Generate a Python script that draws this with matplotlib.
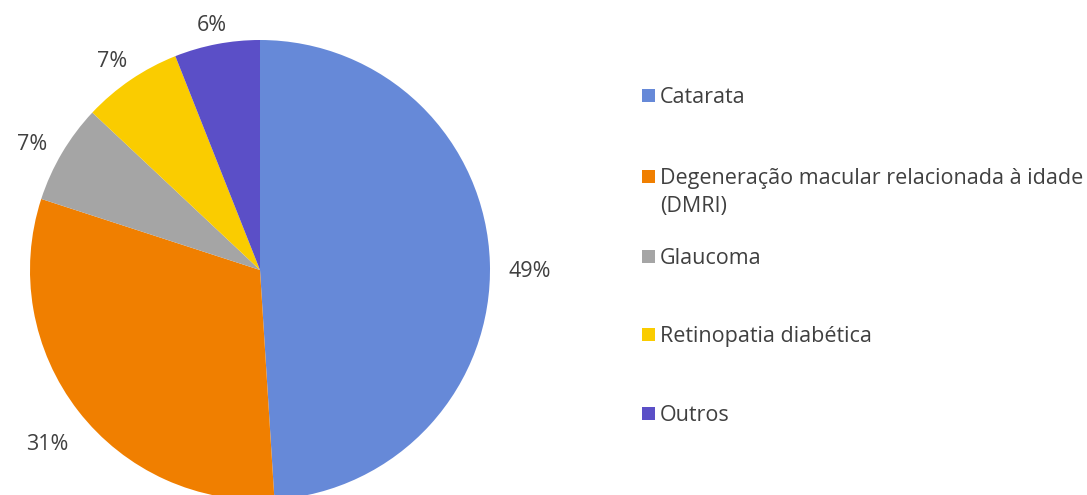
import matplotlib
matplotlib.use('Agg')
import matplotlib.pyplot as plt
import numpy as np
from matplotlib.patches import Rectangle

# chart data
categories = ['Catarata', 'Degeneração macular relacionada à idade\n(DMRI)', 'Glaucoma',
              'Retinopatia diabética', 'Outros']
shares = [49, 31, 7, 7, 6]
colors = ['#6689D8', '#F07F00', '#A5A5A5', '#FACC00', '#5B4FC7']

plt.rcParams['font.family'] = ['Open Sans', 'DejaVu Sans']
text_color = '#404040'

W, H = 1087, 495
cx, cy, R = 260, H - 270, 230
fig = plt.figure(figsize=(W / 100, H / 100), dpi=100)
ax = fig.add_axes([0, 0, 1, 1])

wedges, _, pcts = ax.pie(shares, colors=colors, startangle=90, counterclock=False,
                         center=(cx, cy), radius=R, frame=True,
                         autopct='%1.0f%%', pctdistance=1.17,
                         textprops={'fontsize': 15.5, 'color': text_color},
                         wedgeprops={'linewidth': 0})
ax.set_xlim(0, W)
ax.set_ylim(0, H)
ax.set_aspect('equal')
ax.axis('off')

# push each percent label out so its box sits a fixed gap outside the rim
renderer = fig.canvas.get_renderer()
gap = 18
for w, t in zip(wedges, pcts):
    theta = np.deg2rad((w.theta1 + w.theta2) / 2)
    bb = t.get_window_extent(renderer)
    hw, hh = bb.width / 2, bb.height / 2 * 0.75
    d = R + gap + abs(np.cos(theta)) * hw + abs(np.sin(theta)) * hh
    t.set_position((cx + d * np.cos(theta), cy + d * np.sin(theta) - 7))
    t.set_va('center_baseline')

# legend drawn by hand so the marker sits on the first text line
legend_y = [95, 176, 256, 334, 413]
for name, col, y in zip(categories, colors, legend_y):
    ax.add_patch(Rectangle((642, H - y - 6.5), 13, 13, facecolor=col, edgecolor='none'))
    ax.text(660, H - y + 8, name, fontsize=15.5, color=text_color, va='top', ha='left',
            linespacing=1.45)

fig.savefig('out.png', dpi=100)
